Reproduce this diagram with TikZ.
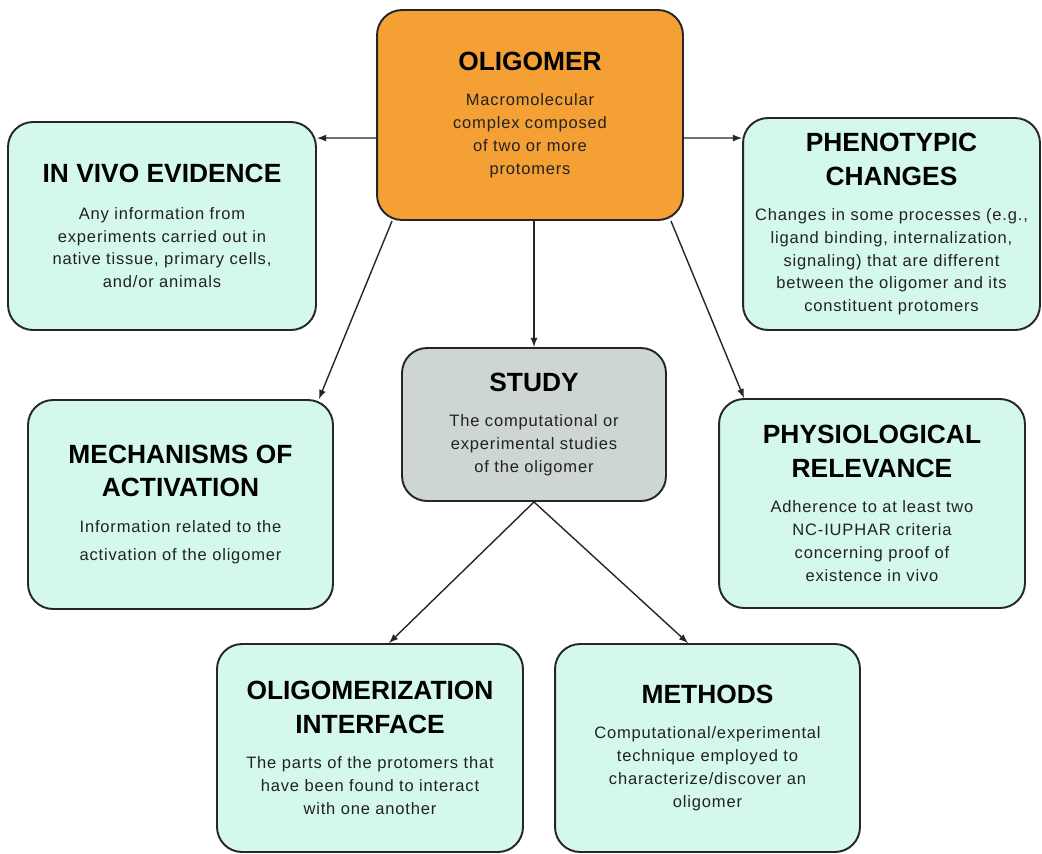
\documentclass[tikz,border=0pt]{standalone}
\usepackage{fontspec}
\setmainfont{Liberation Sans}
\newfontfamily\bodyfont[LetterSpace=5]{Liberation Sans}
\definecolor{oligoorange}{HTML}{F4A035}
\definecolor{topicmint}{HTML}{D5F8EC}
\definecolor{studygray}{HTML}{CDD5D5}
\definecolor{textgray}{HTML}{222222}
\newcommand{\boxtitle}[1]{{\color{black}\rmfamily\fontsize{15pt}{19pt}\selectfont\bfseries #1}}

\begin{document}
\begin{tikzpicture}[x=0.02cm,y=-0.02cm,>=latex,
		topic node/.style={rectangle,rounded corners=0.5cm,draw=black!85,line width=1.1pt,
			fill=topicmint,align=center,text=textgray,inner sep=0pt,
			font=\bodyfont\fontsize{9.4pt}{13pt}\selectfont,
			minimum width=6.1cm,minimum height=4.18cm},
		root node/.style={topic node,fill=oligoorange},
		study node/.style={topic node,fill=studygray}]
		
		\useasboundingbox (0,0) rectangle (1042,853);
		
		\node[root node,minimum width=6.12cm,minimum height=4.2cm] (oligomer) at (530,115)
		{\boxtitle{OLIGOMER}\\[7pt]Macromolecular\\complex composed\\of two or more\\protomers};
		\node[topic node,minimum width=6.16cm,minimum height=4.16cm] (invivo) at (162,226)
		{\boxtitle{IN VIVO EVIDENCE}\\[8pt]Any information from\\experiments carried out in\\native tissue, primary cells,\\and/or animals};
		\node[topic node,minimum width=5.94cm,minimum height=4.24cm] (pheno) at (891.5,224)
		{\boxtitle{PHENOTYPIC}\\[6.3pt]\boxtitle{CHANGES}\\[7pt]Changes in some processes (e.g.,\\ligand binding, internalization,\\signaling) that are different\\between the oligomer and its\\constituent protomers};
		\node[study node,minimum width=5.28cm,minimum height=3.06cm] (study) at (534,424.5)
		{\boxtitle{STUDY}\\[7pt]The computational or\\experimental studies\\of the oligomer};
		\node[topic node] (mech) at (180.5,504.5)
		{\boxtitle{MECHANISMS OF}\\[6.3pt]\boxtitle{ACTIVATION}\\[7pt]Information related to the\\[3.4pt]activation of the oligomer};
		\node[topic node,minimum width=6.12cm] (physio) at (872,503.5)
		{\boxtitle{PHYSIOLOGICAL}\\[6.3pt]\boxtitle{RELEVANCE}\\[7pt]Adherence to at least two\\NC-IUPHAR criteria\\concerning proof of\\existence in vivo};
		\node[topic node,minimum width=6.12cm,minimum height=4.16cm] (interface) at (370,748)
		{\boxtitle{OLIGOMERIZATION}\\[6.3pt]\boxtitle{INTERFACE}\\[7pt]The parts of the protomers that\\have been found to interact\\with one another};
		\node[topic node,minimum height=4.16cm] (methods) at (707.5,748)
		{\boxtitle{METHODS}\\[7pt]Computational/experimental\\technique employed to\\characterize/discover an\\oligomer};
		
		\path[->,line width=0.8pt,every edge/.append style={draw=black!85}]
		([yshift=-0.46cm]oligomer.west) edge ([yshift=1.76cm]invivo.east)
		([yshift=-0.46cm]oligomer.east) edge ([yshift=1.72cm]pheno.west)
		([xshift=0.32cm]oligomer.south west) edge ([xshift=-0.3cm]mech.north east)
		(study.north |- oligomer.south) edge (study.north)
		([xshift=-0.26cm]oligomer.south east) edge ([xshift=0.52cm]physio.north west)
		(study.south) edge ([xshift=0.38cm]interface.north)
		(study.south) edge ([xshift=-0.39cm]methods.north);
\end{tikzpicture}
\end{document}
